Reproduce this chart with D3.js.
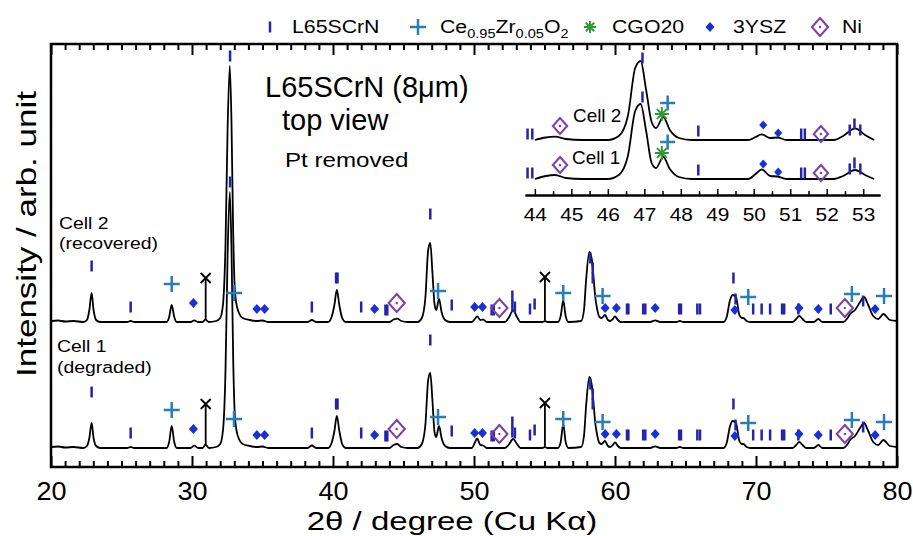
<!DOCTYPE html>
<html>
<head>
<meta charset="utf-8">
<script src="https://cdn.jsdelivr.net/npm/d3@7"></script>
<style>
  html, body { margin: 0; padding: 0; background: #fff; }
  svg text { font-family: "Liberation Sans", Arial, sans-serif; fill: #000; }
</style>
</head>
<body>
<svg id="chart" width="913" height="536"></svg>
<script>
// ---- Data (2theta in degrees, intensity in arb. units above each pattern's baseline) ----
const cell2 = [
  [20.0,1],[20.5,1.5],[21.0,0.5],[21.6,1],[22.3,0],[22.55,2],[22.72,12],[22.88,29],[23.02,12],[23.2,2],[23.5,0],
  [25.4,0],[25.65,1],[25.9,0],
  [28.2,0],[28.38,5],[28.56,17],[28.74,5],[28.92,0],
  [29.9,0],[30.15,1.7],[30.45,0],[30.75,0],[30.95,2.3],[31.2,0],
  [31.7,1],[32.0,4],[32.2,18],[32.38,80],[32.52,190],[32.68,256],[32.8,200],[32.92,90],[33.05,30],[33.25,12],[33.6,4],[34.1,2],[34.6,1],[35.0,1.5],[35.4,0],
  [38.2,0],[38.5,2],[38.8,0],
  [39.65,0],[39.9,5],[40.1,17],[40.27,32],[40.45,17],[40.65,4],[40.9,0],
  [44.0,0],[44.3,2.5],[44.55,3.3],[44.85,1],[45.3,0],
  [46.0,0],[46.3,4],[46.55,24],[46.75,72],[46.9,79],[47.05,50],[47.2,18],[47.32,12],[47.52,23],[47.7,10],[47.95,2],[48.3,0],
  [49.85,0],[50.05,3],[50.22,5.7],[50.45,2],[50.65,2.5],[50.9,0],
  [52.2,0],[52.45,4],[52.78,11.7],[53.05,5],[53.3,0],
  [54.85,0],[55.03,1],[55.2,0],
  [55.95,0],[56.15,6],[56.33,21.7],[56.5,6],[56.7,0],
  [57.6,1],[57.8,12],[57.95,42],[58.18,70],[58.35,63],[58.46,48],[58.6,25],[58.72,14],[58.9,5],[59.05,4],[59.29,7],[59.5,2],[59.65,1],[59.85,3],[60.0,5.7],[60.2,2],[60.4,0],
  [62.5,0],[62.85,1.7],[63.2,0],
  [64.35,0],[64.6,1],[64.85,0],
  [67.7,0],[67.92,5],[68.16,22],[68.35,27],[68.58,25],[68.82,7],[69.0,4],[69.1,4],[69.34,1],[69.6,0],
  [72.6,0],[72.85,3],[73.07,6],[73.3,3],[73.55,0],
  [74.1,0],[74.42,3],[74.7,0],
  [76.2,0],[76.5,4],[76.67,8],[77.02,12],[77.38,20],[77.66,25],[77.96,17],[78.31,6],[78.67,3],[79.03,8],[79.5,2],[80.0,1]
];

const cell1 = [
  [20.0,1],[20.5,1.5],[21.0,0.5],[21.6,1],[22.3,0],[22.55,2],[22.72,10],[22.88,25],[23.02,10],[23.2,2],[23.5,0],
  [25.4,0],[25.65,1],[25.9,0],
  [28.2,0],[28.38,6],[28.56,22],[28.74,6],[28.92,0],
  [29.9,0],[30.15,2.3],[30.45,0],[30.75,0],[30.95,3.3],[31.2,0],
  [31.7,1],[32.0,4],[32.2,18],[32.38,80],[32.52,190],[32.68,256],[32.8,200],[32.92,90],[33.05,30],[33.25,12],[33.6,4],[34.1,2],[34.6,1],[35.0,1.5],[35.4,0],
  [38.2,0],[38.5,2.5],[38.8,0],
  [39.65,0],[39.9,5],[40.1,17],[40.27,32],[40.45,17],[40.65,4],[40.9,0],
  [44.0,0],[44.3,3],[44.55,4],[44.85,1],[45.3,0],
  [46.0,0],[46.3,4],[46.55,23],[46.75,68],[46.9,75],[47.05,48],[47.2,16],[47.32,11],[47.52,22],[47.7,10],[47.95,2],[48.3,0],
  [49.85,0],[50.05,5],[50.22,9.5],[50.45,3],[50.65,2.5],[50.9,0],
  [52.2,0],[52.45,3],[52.78,9],[53.05,4],[53.3,0],
  [54.85,0],[55.03,1],[55.2,0],
  [55.95,0],[56.15,6],[56.33,24],[56.5,6],[56.7,0],
  [57.6,1],[57.8,12],[57.95,42],[58.18,71],[58.35,63],[58.46,48],[58.6,25],[58.72,14],[58.9,5],[59.05,4],[59.29,7],[59.5,2],[59.65,1],[59.85,3],[60.0,5.7],[60.2,2],[60.4,0],
  [62.5,0],[62.85,1.7],[63.2,0],
  [64.35,0],[64.6,1],[64.85,0],
  [67.7,0],[67.92,5],[68.16,22],[68.35,27],[68.58,25],[68.82,7],[69.0,4],[69.1,4],[69.34,1],[69.6,0],
  [72.6,0],[72.85,3],[73.07,6],[73.3,3],[73.55,0],
  [74.1,0],[74.42,3],[74.7,0],
  [76.2,0],[76.5,4],[76.67,8],[77.02,12],[77.38,20],[77.66,25],[77.96,17],[78.31,6],[78.67,3],[79.03,8],[79.5,2],[80.0,1]
];

// reflection markers: [2theta, height above baseline]
const l65Ticks = [[22.88,56],[25.65,15],[32.7,266],[38.5,15],[40.22,44],[40.32,44],[42.0,15],[43.72,12],[43.85,12],
  [46.9,108],[48.42,17],[51.25,12],[51.4,12],[52.72,26],[52.72,16],[52.9,15],[53.97,13],[54.3,18],
  [58.25,64],[58.42,54],[58.42,44],[60.85,13],[60.95,13],[62.0,13],[62.15,13],[64.55,13],[64.68,13],
  [65.84,13],[66.03,13],[68.4,44],[68.55,23],[69.8,13],[70.4,13],[71.0,13],[71.85,13],[72.0,13],[73.0,13],[75.3,13],[77.6,21]];
const ceZrPeaks = [[28.56,38],[32.98,29],[47.45,31],[56.33,29],[59.12,26],[69.45,25],[76.8,28],[79.08,26]];
const yszPeaks = [[30.1,19],[34.6,13],[35.15,13],[42.95,13],[50.05,15],[50.6,15],[59.3,14],[60.1,14],[62.85,14],
  [68.5,12],[73.05,14],[74.42,13],[78.45,13]];
const niPeaks = [[44.52,19],[51.8,14],[76.3,14]];
const crossPeaks = [[30.97,44],[55.03,45]];

// inset markers
const insetL65 = [[43.8,6],[43.93,6],[46.95,82],[48.48,9],[51.3,6],[51.4,6],[52.63,10],[52.76,16],[52.92,10]];
const insetCeZr = [[47.64,37]];
const insetCgo = [[47.48,26]];
const insetYsz = [[50.26,15],[50.67,7]];
const insetNi = [[44.69,14],[51.84,6]];

const xTicks = [20, 30, 40, 50, 60, 70, 80];
const insetTicks = [44, 45, 46, 47, 48, 49, 50, 51, 52, 53];

// ---- Layout ----
const C = { l65: '#2424a8', ceZr: '#2a7db5', cgo: '#2f9a34', ysz: '#1a30d6', ni: '#7b3fa8' };
const BASE1 = 19, BASE2 = 145;      // pattern offsets, main plot
const IN_BASE1 = 16, IN_BASE2 = 55; // pattern offsets, inset

const svg = d3.select('#chart');

const x = d3.scaleLinear().domain([20, 80]).range([51, 897]);
const y = d3.scaleLinear().domain([0, 423]).range([467, 44]);
const xi = d3.scaleLinear().domain([43.73, 53.46]).range([525, 880]);
const yi = d3.scaleLinear().domain([0, 155]).range([195, 40]);

function label(sel, px, py, str, size, sx, anchor) {
  return sel.append('text')
    .attr('transform', `translate(${px},${py}) scale(${sx},1)`)
    .attr('font-size', size)
    .attr('text-anchor', anchor || 'start')
    .text(str);
}

// ---- Spectra ----
function drawPattern(g, data, xs, ys, off) {
  const line = d3.line()
    .x(d => xs(d[0]))
    .y(d => ys(d[1] + off))
    .curve(d3.curveMonotoneX);
  g.append('path').datum(data)
    .attr('d', line)
    .attr('fill', 'none')
    .attr('stroke', '#000')
    .attr('stroke-width', 1.8)
    .attr('stroke-linejoin', 'round');
}

const mainG = svg.append('g');
drawPattern(mainG, cell2, x, y, BASE2);
drawPattern(mainG, cell1, x, y, BASE1);

// ---- Markers ----
function tickMarks(g, data, xs, ys, off, len) {
  g.selectAll(null).data(data).join('line')
    .attr('x1', d => xs(d[0])).attr('x2', d => xs(d[0]))
    .attr('y1', d => ys(d[1] + off) - len / 2)
    .attr('y2', d => ys(d[1] + off) + len / 2)
    .attr('stroke', C.l65).attr('stroke-width', 2.5);
}
function symbols(g, data, xs, ys, off, pathStr, fill, stroke, sw) {
  g.selectAll(null).data(data).join('path')
    .attr('transform', d => `translate(${xs(d[0])},${ys(d[1] + off)})`)
    .attr('d', pathStr)
    .attr('fill', fill)
    .attr('stroke', stroke)
    .attr('stroke-width', sw);
}
const plusPath = s => `M${-s},0H${s}M0,${-s}V${s}`;
const starPath = s => { const k = s * 0.7; return `M${-s},0H${s}M0,${-s}V${s}M${-k},${-k}L${k},${k}M${-k},${k}L${k},${-k}`; };
const diamondPath = s => `M0,${-s}L${s * 0.9},0L0,${s}L${-s * 0.9},0Z`;
const crossPath = s => `M${-s},${-s}L${s},${s}M${-s},${s}L${s},${-s}`;

function niMarks(g, data, xs, ys, off, s) {
  symbols(g, data, xs, ys, off, diamondPath(s), 'none', C.ni, 2);
  g.selectAll(null).data(data).join('circle')
    .attr('cx', d => xs(d[0])).attr('cy', d => ys(d[1] + off))
    .attr('r', 1.2).attr('fill', C.ni);
}

const marks = svg.append('g');
[BASE2, BASE1].forEach(off => {
  // X markers with a stem down to the pattern
  marks.selectAll(null).data(crossPeaks).join('line')
    .attr('x1', d => x(d[0])).attr('x2', d => x(d[0]))
    .attr('y1', d => y(d[1] + off)).attr('y2', y(off + 2))
    .attr('stroke', '#000').attr('stroke-width', 1.8);
  symbols(marks, crossPeaks, x, y, off, crossPath(5), 'none', '#000', 1.8);
  tickMarks(marks, l65Ticks, x, y, off, 11);
  symbols(marks, yszPeaks, x, y, off, diamondPath(5), C.ysz, 'none', 0);
  niMarks(marks, niPeaks, x, y, off, 9);
  symbols(marks, ceZrPeaks, x, y, off, plusPath(8), 'none', C.ceZr, 2.5);
});

// ---- Frame and axes ----
svg.append('rect')
  .attr('x', 51).attr('y', 44).attr('width', 846).attr('height', 423)
  .attr('fill', 'none').attr('stroke', '#000').attr('stroke-width', 2.5);

const minor = d3.range(21, 80).filter(v => v % 10 !== 0);

const axisB = svg.append('g').attr('transform', 'translate(0,467)');
axisB.call(d3.axisBottom(x).tickValues(xTicks).tickSize(-11).tickSizeOuter(0).tickPadding(15).tickFormat(d3.format('d')));
axisB.append('g').call(d3.axisBottom(x).tickValues(minor).tickSize(-6).tickSizeOuter(0).tickFormat(''));
const axisT = svg.append('g').attr('transform', 'translate(0,44)');
axisT.call(d3.axisTop(x).tickValues(xTicks).tickSize(-11).tickSizeOuter(0).tickFormat(''));
axisT.append('g').call(d3.axisTop(x).tickValues(minor).tickSize(-6).tickSizeOuter(0).tickFormat(''));
[axisB, axisT].forEach(a => {
  a.selectAll('.domain').attr('stroke', 'none');
  a.selectAll('.tick line').attr('stroke', '#000').attr('stroke-width', 2);
});
axisB.selectAll('.tick text')
  .attr('font-size', 25).attr('font-family', '"Liberation Sans", Arial, sans-serif')
  .attr('transform', 'scale(1.08,1)');

// axis titles
label(svg, 452, 530, '2θ / degree (Cu Kα)', 26, 1.27, 'middle');
svg.append('text')
  .attr('transform', 'translate(36,234) rotate(-90) scale(1.25,1)')
  .attr('font-size', 28).attr('text-anchor', 'middle')
  .text('Intensity / arb. unit');

// ---- Annotations ----
label(svg, 265, 97, 'L65SCrN (8μm)', 29, 1, 'start');
label(svg, 282, 130, 'top view', 29, 1, 'start');
label(svg, 285, 167, 'Pt removed', 21, 1.15, 'start');
label(svg, 59, 229, 'Cell 2', 17, 1.14, 'start');
label(svg, 59, 249, '(recovered)', 17, 1.14, 'start');
label(svg, 57, 352, 'Cell 1', 17, 1.14, 'start');
label(svg, 57, 373, '(degraded)', 17, 1.14, 'start');

// ---- Inset ----
const inset = svg.append('g');
inset.append('clipPath').attr('id', 'insetClip')
  .append('rect').attr('x', 525).attr('y', 40).attr('width', 355).attr('height', 160);
const insetLines = inset.append('g').attr('clip-path', 'url(#insetClip)');
drawPattern(insetLines, cell2.filter(d => d[0] > 43 && d[0] < 54), xi, yi, IN_BASE2);
drawPattern(insetLines, cell1.filter(d => d[0] > 43 && d[0] < 54), xi, yi, IN_BASE1);

[IN_BASE2, IN_BASE1].forEach(off => {
  tickMarks(inset, insetL65, xi, yi, off, 11);
  symbols(inset, insetYsz, xi, yi, off, diamondPath(4.5), C.ysz, 'none', 0);
  niMarks(inset, insetNi, xi, yi, off, 8);
  symbols(inset, insetCgo, xi, yi, off, starPath(7), 'none', C.cgo, 2);
  symbols(inset, insetCeZr, xi, yi, off, plusPath(7.5), 'none', C.ceZr, 2.5);
});

const halfTicks = [43.5, 44.5, 45.5, 46.5, 47.5, 48.5, 49.5, 50.5, 51.5, 52.5, 53.5].filter(v => v > 43.73 && v < 53.46);
const insetAxis = inset.append('g').attr('transform', 'translate(0,195)');
insetAxis.call(d3.axisBottom(xi).tickValues(insetTicks).tickSize(-6).tickSizeOuter(0).tickPadding(13).tickFormat(d3.format('d')));
insetAxis.append('g').call(d3.axisBottom(xi).tickValues(halfTicks).tickSize(-4).tickSizeOuter(0).tickFormat(''));
insetAxis.selectAll('.domain').attr('stroke', '#000').attr('stroke-width', 2);
insetAxis.selectAll('.tick line').attr('stroke', '#000').attr('stroke-width', 1.5);
insetAxis.selectAll('.tick text')
  .attr('font-size', 19).attr('font-family', '"Liberation Sans", Arial, sans-serif')
  .attr('transform', 'scale(1.1,1)');

label(inset, 573, 122, 'Cell 2', 18, 1.05, 'start');
label(inset, 572, 164, 'Cell 1', 18, 1.05, 'start');

// ---- Legend ----
const legend = svg.append('g');
const LY = 27;
legend.append('line').attr('x1', 270).attr('x2', 270).attr('y1', LY - 5.5).attr('y2', LY + 5.5)
  .attr('stroke', C.l65).attr('stroke-width', 2.5);
label(legend, 292, 33, 'L65SCrN', 19, 1.12);
legend.append('path').attr('transform', `translate(418,${LY})`).attr('d', plusPath(8))
  .attr('stroke', C.ceZr).attr('stroke-width', 2.5).attr('fill', 'none');
const ce = legend.append('text').attr('transform', 'translate(440,33) scale(1.12,1)').attr('font-size', 19);
[['Ce', 0], ['0.95', 1], ['Zr', 0], ['0.05', 1], ['O', 0], ['2', 1]].forEach(([t, sub], i) => {
  ce.append('tspan').text(t)
    .attr('font-size', sub ? 13 : 19)
    .attr('dy', i === 0 ? 0 : (sub ? 5 : -5));
});
legend.append('path').attr('transform', `translate(590,${LY})`).attr('d', starPath(6))
  .attr('stroke', C.cgo).attr('stroke-width', 2).attr('fill', 'none');
label(legend, 612, 33, 'CGO20', 19, 1.12);
legend.append('path').attr('transform', `translate(710,${LY})`).attr('d', diamondPath(5)).attr('fill', C.ysz);
label(legend, 733, 33, '3YSZ', 19, 1.12);
legend.append('path').attr('transform', `translate(820,${LY})`).attr('d', diamondPath(9))
  .attr('fill', 'none').attr('stroke', C.ni).attr('stroke-width', 2);
legend.append('circle').attr('cx', 820).attr('cy', LY).attr('r', 1.2).attr('fill', C.ni);
label(legend, 842, 33, 'Ni', 19, 1.12);
</script>
</body>
</html>
